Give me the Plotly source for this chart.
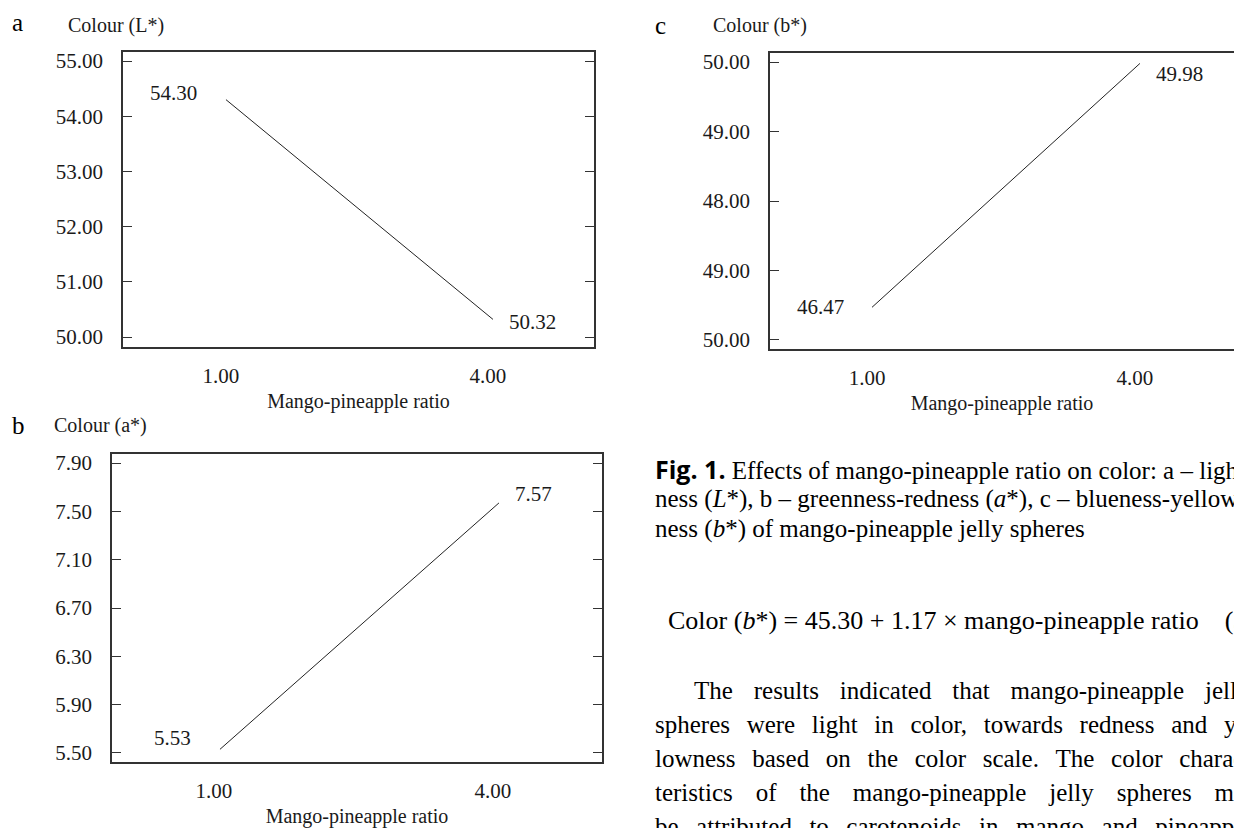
import plotly.graph_objects as go

# ---------------- data ----------------
ratio = [1.0, 4.0]                      # mango-pineapple ratio
L_star = [54.30, 50.32]                 # panel a
a_star = [5.53, 7.57]                   # panel b
b_star = [46.47, 49.98]                 # panel c

x_tickvals = [1.0, 4.0]
x_ticktext = ["1.00", "4.00"]
L_tickvals = [50, 51, 52, 53, 54, 55]
a_tickvals = [5.5, 5.9, 6.3, 6.7, 7.1, 7.5, 7.9]
b_tickvals = [46, 47, 48, 49, 50]
b_ticktext = ["50.00", "49.00", "48.00", "49.00", "50.00"]   # as printed in the figure

panel_letters = ["a", "b", "c"]
y_titles = ["Colour (L*)", "Colour (a*)", "Colour (b*)"]
x_title = "Mango-pineapple ratio"

caption_lines = [
    "<span style='font-family:Open Sans;font-weight:bold'>Fig. 1.</span> Effects of mango-pineapple ratio on color: a – light-",
    "ness (<i>L</i>*), b – greenness-redness (<i>a</i>*), c – blueness-yellow-",
    "ness (<i>b</i>*) of mango-pineapple jelly spheres",
]
equation = "Color (<i>b</i>*) = 45.30 + 1.17 × mango-pineapple ratio    (3)"
paragraph_words = [
    ["The", "results", "indicated", "that", "mango-pineapple", "jelly"],
    ["spheres", "were", "light", "in", "color,", "towards", "redness", "and", "yel-"],
    ["lowness", "based", "on", "the", "color", "scale.", "The", "color", "charac-"],
    ["teristics", "of", "the", "mango-pineapple", "jelly", "spheres", "may"],
    ["be", "attributed", "to", "carotenoids", "in", "mango", "and", "pineapple"],
]
# justified word gaps (regular spaces + fine spaces)
gaps = ["   \u200a", "  \u2006", "  \u2006", "   \u2006", "  \u2009"]

# ---------------- layout helpers ----------------
W, H = 1234, 828
def px(x):
    return x / W
def py(y):
    return 1 - y / H

SERIF = "Liberation Serif"
TXT = "#1a1a1a"
AX = "#333333"
tickfont = dict(family=SERIF, size=21, color=TXT)
labfont = dict(family=SERIF, size=20, color=TXT)

fig = go.Figure()
fig.add_trace(go.Scatter(x=ratio, y=L_star, mode="lines", line=dict(color="#222", width=1),
                         xaxis="x", yaxis="y", showlegend=False, hoverinfo="skip"))
fig.add_trace(go.Scatter(x=ratio, y=a_star, mode="lines", line=dict(color="#222", width=1),
                         xaxis="x2", yaxis="y2", showlegend=False, hoverinfo="skip"))
fig.add_trace(go.Scatter(x=ratio, y=b_star, mode="lines", line=dict(color="#222", width=1),
                         xaxis="x3", yaxis="y3", showlegend=False, hoverinfo="skip"))

def xax(domain, rng, anchor, shift):
    return dict(domain=domain, range=rng, anchor=anchor, showline=True, linecolor=AX, linewidth=1.5,
                mirror=True, ticks="", tickvals=x_tickvals, ticktext=x_ticktext, tickfont=tickfont,
                ticklabelstandoff=9, ticklabelshift=shift, showgrid=False, zeroline=False, automargin=False,
                title=dict(text=x_title, font=labfont, standoff=7))

def yax(domain, rng, anchor, vals, text, mirror):
    return dict(domain=domain, range=rng, anchor=anchor, showline=True, linecolor=AX, linewidth=1.5,
                mirror=mirror, ticks="inside", ticklen=9, tickcolor=AX, tickwidth=1.2,
                tickvals=vals, ticktext=text, tickfont=tickfont, ticklabelstandoff=14,
                showgrid=False, zeroline=False, automargin=False)

fig.update_layout(
    width=W, height=H, margin=dict(l=0, r=0, t=0, b=0),
    paper_bgcolor="white", plot_bgcolor="white", showlegend=False,
    xaxis=xax([px(123), px(594)], [-0.157, 5.135], "y", -5),
    yaxis=yax([py(347), py(52)], [49.82, 55.163], "x", L_tickvals,
              [f"{v:.2f}" for v in L_tickvals], "ticks"),
    xaxis2=xax([px(112), px(602)], [-0.161, 5.108], "y2", -6),
    yaxis2=yax([py(762), py(454)], [5.425, 7.975], "x2", a_tickvals,
               [f"{v:.2f}" for v in a_tickvals], "ticks"),
    xaxis3=xax([px(770), 1.0], [-0.142, 5.053], "y3", -5),
    yaxis3=yax([py(349), py(53)], [45.87, 50.13], "x3", b_tickvals, b_ticktext, False),
    yaxis4=dict(overlaying="y3", side="right", anchor="x3", range=[45.87, 50.13], showline=False,
                ticks="inside", ticklen=3, tickcolor=AX, tickvals=b_tickvals, showticklabels=False,
                showgrid=False, zeroline=False, automargin=False),
)

annotations = []
# data value labels
label_specs = [
    ("x", "y", ratio[0], L_star[0], -52, 7), ("x", "y", ratio[1], L_star[1], 40, -3),
    ("x2", "y2", ratio[0], a_star[0], -47, 11), ("x2", "y2", ratio[1], a_star[1], 35, 9),
    ("x3", "y3", ratio[0], b_star[0], -52, 0), ("x3", "y3", ratio[1], b_star[1], 40, -11),
]
for xr, yr, xv, yv, dx, dy in label_specs:
    annotations.append(dict(xref=xr, yref=yr, x=xv, y=yv, xshift=dx, yshift=dy, text=f"{yv:.2f}",
                            showarrow=False, font=tickfont, xanchor="center", yanchor="middle"))

# panel letters and y titles
letter_pos = [(10, 22), (10, 426), (653, 25)]
title_pos = [(66, 25), (52, 426), (711, 25)]
for (lx, ly), (tx, ty), let, ttl in zip(letter_pos, title_pos, panel_letters, y_titles):
    annotations.append(dict(xref="paper", yref="paper", x=px(lx), y=py(ly), text=let, showarrow=False,
                            xanchor="left", yanchor="middle", font=dict(family=SERIF, size=25, color="#000")))
    annotations.append(dict(xref="paper", yref="paper", x=px(tx), y=py(ty), text=ttl, showarrow=False,
                            xanchor="left", yanchor="middle", font=labfont))

# caption
for i, line in enumerate(caption_lines):
    annotations.append(dict(xref="paper", yref="paper", x=px(653), y=py(469 + 30 * i), text=line,
                            showarrow=False, xanchor="left", yanchor="middle",
                            font=dict(family=SERIF, size=25, color="#000")))
annotations.append(dict(xref="paper", yref="paper", x=px(666), y=py(620), text=equation,
                        showarrow=False, xanchor="left", yanchor="middle",
                        font=dict(family=SERIF, size=26, color="#000")))
for i, words in enumerate(paragraph_words):
    annotations.append(dict(xref="paper", yref="paper", x=px(692 if i == 0 else 653), y=py(690 + 34 * i),
                            text=gaps[i].join(words), showarrow=False, xanchor="left", yanchor="middle",
                            font=dict(family=SERIF, size=25, color="#000")))

fig.update_layout(annotations=annotations)
fig.write_html("out.html")
